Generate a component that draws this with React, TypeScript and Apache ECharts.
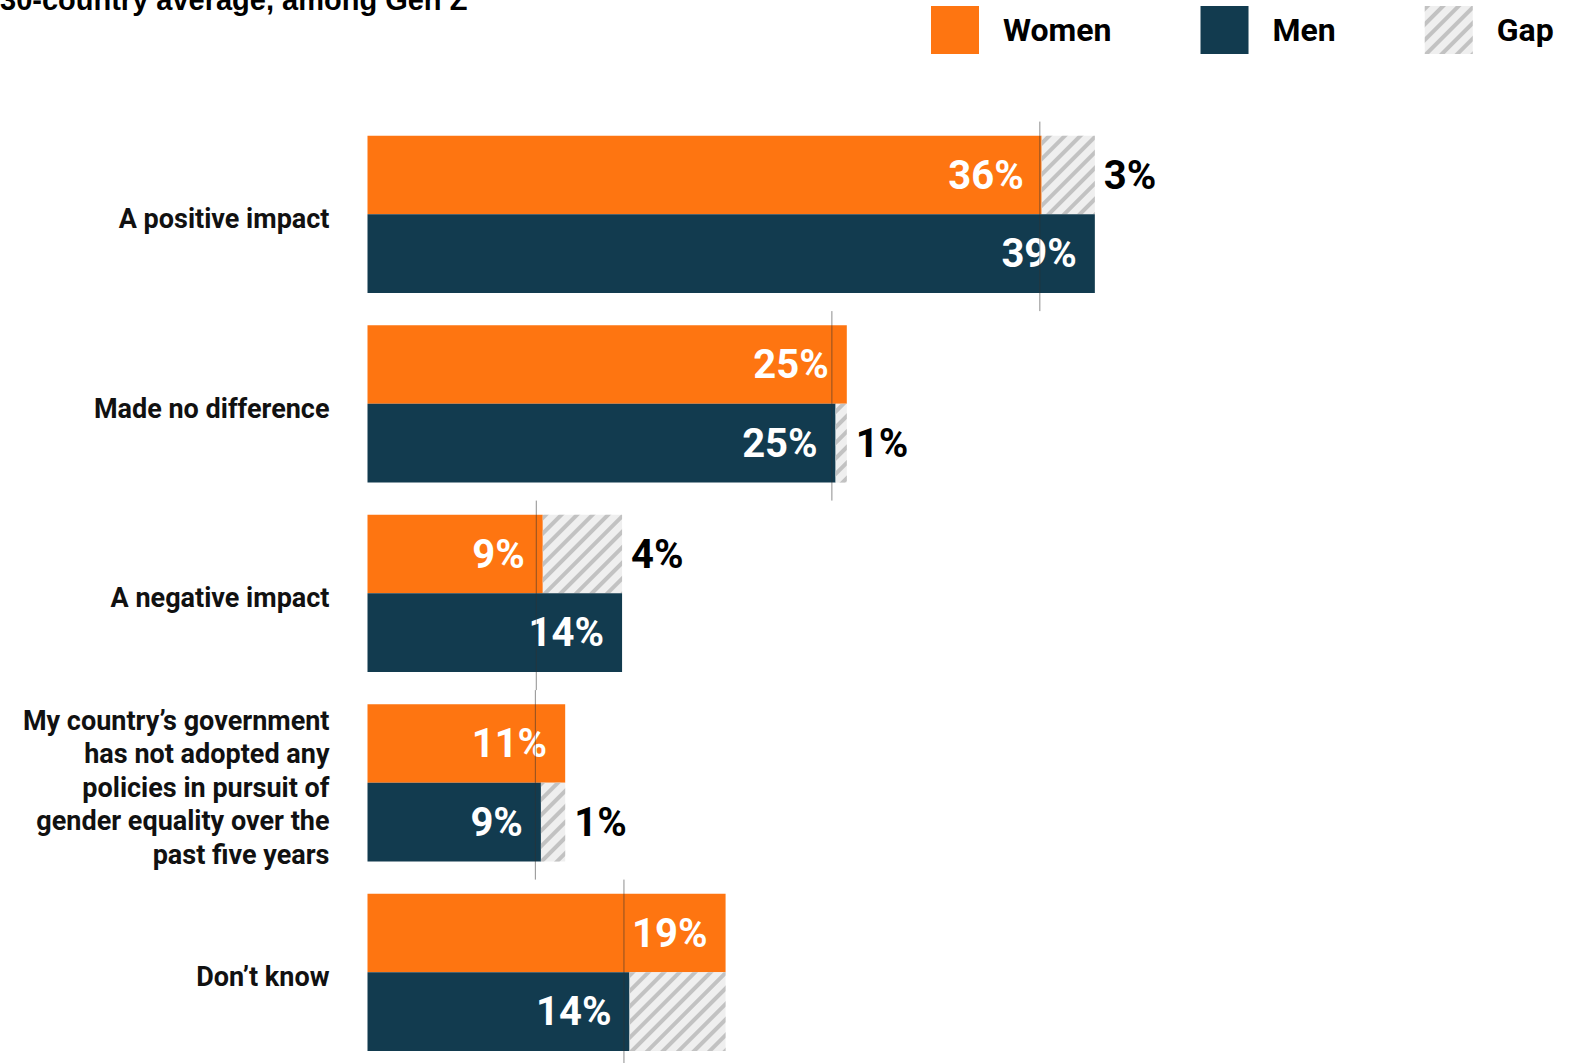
import React, { useEffect, useRef } from "react";
import * as echarts from "echarts";

const categories = [
  "A positive impact",
  "Made no difference",
  "A negative impact",
  "My country’s government\nhas not adopted any\npolicies in pursuit of\ngender equality over the\npast five years",
  "Don’t know",
];
const womenValues = [36.15, 25.7, 9.4, 10.6, 19.2];
const menValues = [39.0, 25.1, 13.65, 9.3, 14.05];
const womenLabels = ["36%", "25%", "9%", "11%", "19%"];
const menLabels = ["39%", "25%", "14%", "9%", "14%"];
const gapLabels = ["3%", "1%", "4%", "1%", ""];
const markerValues = [36.05, 24.9, 9.05, 9.0, 13.75];
const titleText = "30-country average, among Gen Z";

const ORANGE = "#fe7511";
const TEAL = "#123b4f";
const HATCH_BG = "#efefef";
const HATCH_LINE = "#c2c2c2";
const NUM_FONT = "Roboto, 'Noto Sans', sans-serif";
const CAT_FONT = "Roboto, 'Noto Sans', sans-serif";

export default function App() {
  const ref = useRef<HTMLDivElement>(null);
  useEffect(() => {
    document.body.style.margin = "0";
    document.body.style.overflow = "hidden";
    const chart = echarts.init(ref.current!, null, { renderer: "svg" });
    const womenGap = womenValues.map((w, i) => Math.max(0, menValues[i] - w));
    const menGap = menValues.map((m, i) => Math.max(0, womenValues[i] - m));
    const decal = {
      symbol: "rect",
      symbolSize: 1,
      color: HATCH_LINE,
      dashArrayX: [1, 0],
      dashArrayY: [4, 7],
      rotation: -Math.PI / 4,
    };
    const barW = 78.7;
    const valueLabel = (labels: string[]) => ({
      show: true,
      position: "insideRight",
      distance: 18,
      color: "#ffffff",
      fontFamily: NUM_FONT,
      fontWeight: "bold",
      fontSize: 40,
      formatter: (p: any) => labels[p.dataIndex],
    });
    const gapLabel = (which: "w" | "m") => ({
      show: true,
      position: "right",
      distance: 9,
      color: "#000000",
      fontFamily: NUM_FONT,
      fontWeight: "bold",
      fontSize: 40,
      formatter: (p: any) => {
        const i = p.dataIndex;
        const hasGap = which === "w" ? womenGap[i] > 0 : menGap[i] > 0;
        return hasGap ? gapLabels[i] : "";
      },
    });
    const gridTop = 119.6;
    const gridH = 947.5;
    chart.setOption({
      animation: false,
      backgroundColor: "#ffffff",
      graphic: [
        {
          type: "text",
          x: 0,
          y: -14.5,
          style: {
            text: titleText,
            font: "bold 29px 'Liberation Sans', Arial, sans-serif",
            fill: "#000000",
            textVerticalAlign: "top",
          },
        },
      ],
      legend: {
        data: ["Women", "Men", "Gap"],
        left: 931,
        top: 6,
        width: 645,
        padding: 0,
        itemWidth: 48,
        itemHeight: 48,
        itemGap: 89,
        icon: "rect",
        selectedMode: false,
        textStyle: {
          fontFamily: NUM_FONT,
          fontWeight: "bold",
          fontSize: 32,
          color: "#000000",
          padding: [0, 0, 0, 19],
        },
      },
      grid: [
        { left: 367.5, top: gridTop, width: 1119, height: gridH, containLabel: false },
        { left: 367.5, top: gridTop + 5, width: 1119, height: gridH, containLabel: false },
      ],
      xAxis: [
        { type: "value", min: 0, max: 60, show: false, gridIndex: 0 },
        { type: "value", min: 0, max: 60, show: false, gridIndex: 1 },
      ],
      yAxis: [
        {
          type: "category",
          gridIndex: 0,
          inverse: true,
          data: categories,
          axisLine: { show: false },
          axisTick: { show: false },
          splitLine: { show: false },
          axisLabel: { show: false },
        },
        {
          type: "category",
          gridIndex: 1,
          inverse: true,
          data: categories,
          axisLine: { show: false },
          axisTick: { show: false },
          splitLine: { show: false },
          axisLabel: {
            margin: 38,
            fontFamily: CAT_FONT,
            fontWeight: "bold",
            fontSize: 27,
            lineHeight: 33.5,
            color: "#111111",
            align: "right",
          },
        },
      ],
      series: [
        {
          name: "Women",
          type: "bar",
          stack: "w",
          barWidth: barW,
          barGap: "0%",
          data: womenValues,
          itemStyle: { color: ORANGE },
          label: valueLabel(womenLabels),
        },
        {
          name: "Gap",
          type: "bar",
          stack: "w",
          barWidth: barW,
          data: womenGap,
          itemStyle: { color: HATCH_BG, decal },
          label: gapLabel("w"),
        },
        {
          name: "Men",
          type: "bar",
          stack: "m",
          barWidth: barW,
          barGap: "0%",
          data: menValues,
          itemStyle: { color: TEAL },
          label: valueLabel(menLabels),
        },
        {
          name: "Gap",
          type: "bar",
          stack: "m",
          barWidth: barW,
          data: menGap,
          itemStyle: { color: HATCH_BG, decal },
          label: gapLabel("m"),
        },
        {
          name: "marker",
          type: "custom",
          silent: true,
          z: 10,
          data: markerValues.map((v, i) => [v, i]),
          encode: { x: 0, y: 1 },
          renderItem: (params: any, api: any) => {
            const p = api.coord([api.value(0), api.value(1)]);
            const h = api.size([0, 1])[1];
            return {
              type: "line",
              shape: { x1: p[0], y1: p[1] - h / 2 + 2, x2: p[0], y2: p[1] + h / 2 + 2 },
              style: { stroke: "rgba(50,50,50,0.55)", lineWidth: 1 },
            };
          },
        },
      ],
    });
    return () => chart.dispose();
  }, []);
  return <div ref={ref} style={{ width: 1580, height: 1076 }} />;
}
